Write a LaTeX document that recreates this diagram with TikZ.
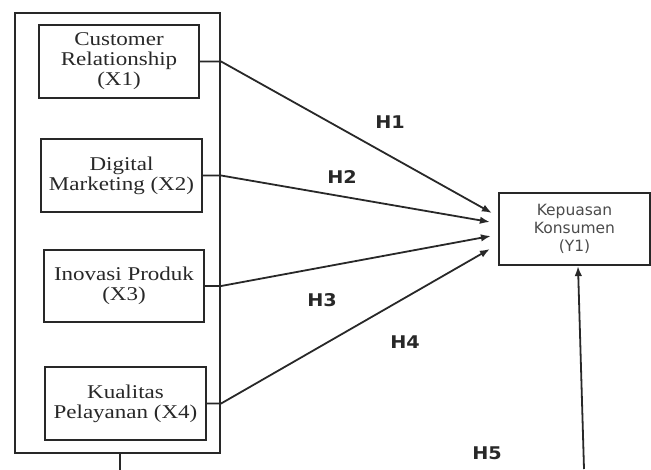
\documentclass[tikz,border=0pt]{standalone}
\usepackage{fontspec}
\setmainfont{Liberation Serif}
\newfontfamily\boxfont{Liberation Serif}[FakeStretch=1.18]
\newfontfamily\yfont{DejaVu Sans}
\newfontfamily\hfont{DejaVu Sans}[FakeStretch=1.1]
\usetikzlibrary{arrows.meta}
\definecolor{ink}{RGB}{40,40,40}
\definecolor{softink}{RGB}{75,75,75}
\tikzset{
  varbox/.style={draw=ink, line width=2.2pt, align=center, inner sep=0pt, text=ink,
    font=\boxfont\fontsize{19.5}{20}\selectfont},
  hyp/.style={font=\hfont\bfseries\fontsize{17.5}{17.5}\selectfont, text=ink},
  arr/.style={draw=ink, line width=1.8pt, -{Latex[length=10pt,width=7.5pt]}}
}

\begin{document}
\begin{tikzpicture}[x=1pt,y=-1pt]
    \useasboundingbox (0,0) rectangle (651,469);
    \begin{scope}

    \node [draw=ink, line width=2.2pt, minimum width=205pt, minimum height=440pt, inner sep=0pt] (outer) at (117.5,233) {};
    \draw [draw=ink, line width=2pt] ([xshift=2.5pt]outer.south) -- ++(0,16);

    \node [varbox, minimum width=160pt, minimum height=73pt] (x1) at (119,61.5) {Customer\\Relationship\\(X1)};
    \node [varbox, minimum width=161pt, minimum height=73pt] (x2) at (121.5,175.5) {Digital\\Marketing (X2)};
    \node [varbox, minimum width=160pt, minimum height=72pt] (x3) at (124,286) {Inovasi Produk\\(X3)};
    \node [varbox, minimum width=161pt, minimum height=73pt] (x4) at (125.5,403.5) {Kualitas\\Pelayanan (X4)};

    \node [varbox, minimum width=151pt, minimum height=72pt, text=softink,
           font=\yfont\fontsize{15.5}{18}\selectfont] (y1) at (574.5,229) {Kepuasan\\Konsumen\\(Y1)};

    \draw [arr] (x1.east) -- (x1.east -| outer.east) -- ([xshift=-6pt,yshift=16pt]y1.west);
    \draw [arr] (x2.east) -- (x2.east -| outer.east) -- ([xshift=-8pt,yshift=7pt]y1.west);
    \draw [arr] (x3.east) -- (x3.east -| outer.east) -- ([xshift=-7pt,yshift=-7pt]y1.west);
    \draw [arr] (x4.east) -- (x4.east -| outer.east) -- ([xshift=-8pt,yshift=-20pt]y1.west);

    \coordinate (foot) at (584,469);
    \draw [arr] (foot) -- ([xshift=3.5pt]y1.south);

    \node [hyp] (h1) at (390,122) {H1};
    \node [hyp] (h2) at (342,177) {H2};
    \node [hyp] (h3) at (322,300) {H3};
    \node [hyp] (h4) at (405,342) {H4};
    \node [hyp] (h5) at (487,453) {H5};

    \end{scope}
\end{tikzpicture}
\end{document}
